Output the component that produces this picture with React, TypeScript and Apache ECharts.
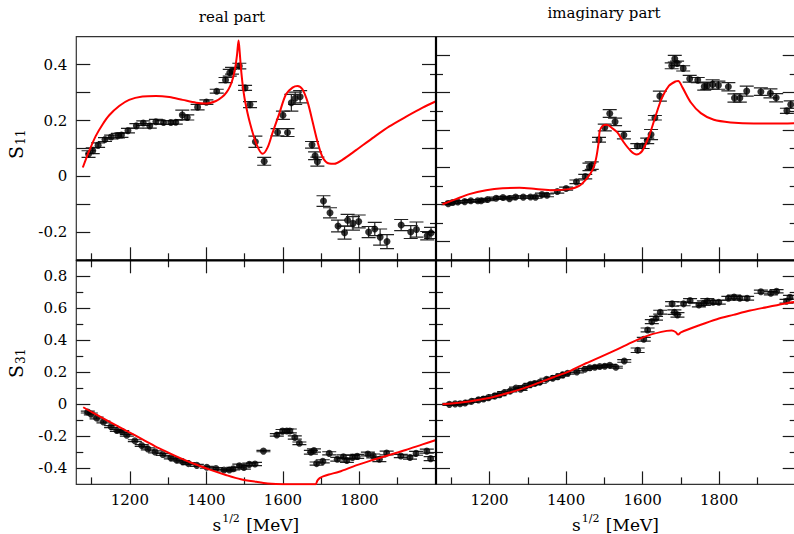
import React, { useEffect, useRef } from "react";
import * as echarts from "echarts";

// ---- energy axis (MeV) ----
const E_MIN = 1060;
const E_MAX = 2000;
const xMajor = [1200, 1400, 1600, 1800];
const xMinor = [1100, 1300, 1500, 1700, 1900];

// ---- value axes ----
const s11ReRange = [-0.3, 0.5];
const s11ReTicks = [-0.2, -0.1, 0, 0.1, 0.2, 0.3, 0.4];
const s11ReLabels = [-0.2, 0, 0.2, 0.4];
const s11ImRange = [-0.3, 0.9];
const s11ImMajor = [-0.2, 0, 0.2, 0.4, 0.6, 0.8];
const s11ImMinor = [-0.1, 0.1, 0.3, 0.5, 0.7];
const s31Range = [-0.5, 0.9];
const s31Major = [-0.4, -0.2, 0, 0.2, 0.4, 0.6, 0.8];
const s31Minor = [-0.3, -0.1, 0.1, 0.3, 0.5, 0.7];

// ---- S11 single-energy data ----
const s11Energy = [
  1092, 1103, 1117, 1135, 1151, 1169, 1178, 1195, 1217, 1235,
  1252, 1268, 1288, 1307, 1320, 1337, 1350, 1377, 1400, 1427,
  1450, 1461, 1467, 1486, 1501, 1514, 1528, 1551, 1586, 1600,
  1612, 1622, 1632, 1645, 1676, 1684, 1690, 1706, 1723, 1744,
  1761, 1769, 1783, 1798, 1824, 1840, 1854, 1872, 1909, 1934,
  1949, 1977, 1987,
];
const s11Re = [
  0.080, 0.092, 0.112, 0.132, 0.141, 0.146, 0.148, 0.164, 0.181, 0.191,
  0.181, 0.196, 0.193, 0.193, 0.194, 0.220, 0.211, 0.248, 0.266, 0.305,
  0.345, 0.371, 0.378, 0.395, 0.317, 0.257, 0.124, 0.054, 0.158, 0.219,
  0.157, 0.264, 0.280, 0.285, 0.113, 0.074, 0.053, -0.088, -0.130, -0.177,
  -0.201, -0.157, -0.168, -0.161, -0.199, -0.188, -0.217, -0.233, -0.174, -0.199,
  -0.190, -0.212, -0.202,
];
const s11ReErr = [
  0.012, 0.010, 0.008, 0.007, 0.007, 0.008, 0.008, 0.008, 0.008, 0.008,
  0.008, 0.008, 0.007, 0.007, 0.007, 0.017, 0.009, 0.010, 0.008, 0.007,
  0.009, 0.012, 0.012, 0.010, 0.009, 0.011, 0.020, 0.014, 0.013, 0.015,
  0.014, 0.030, 0.022, 0.022, 0.012, 0.014, 0.016, 0.019, 0.018, 0.021,
  0.023, 0.021, 0.024, 0.023, 0.020, 0.024, 0.029, 0.025, 0.020, 0.023,
  0.027, 0.015, 0.020,
];
const s11Im = [
  0.004, 0.010, 0.013, 0.015, 0.020, 0.020, 0.020, 0.026, 0.033, 0.037,
  0.031, 0.040, 0.039, 0.040, 0.039, 0.053, 0.049, 0.069, 0.085, 0.121,
  0.149, 0.201, 0.208, 0.347, 0.413, 0.488, 0.443, 0.372, 0.313, 0.313,
  0.341, 0.375, 0.465, 0.581, 0.744, 0.782, 0.757, 0.730, 0.674, 0.667,
  0.633, 0.637, 0.644, 0.640, 0.631, 0.571, 0.571, 0.608, 0.605, 0.596,
  0.572, 0.502, 0.536,
];
const s11ImErr = [
  0.006, 0.006, 0.006, 0.006, 0.006, 0.006, 0.006, 0.006, 0.006, 0.006,
  0.006, 0.006, 0.006, 0.006, 0.006, 0.008, 0.008, 0.008, 0.008, 0.010,
  0.012, 0.020, 0.020, 0.013, 0.018, 0.021, 0.020, 0.020, 0.013, 0.013,
  0.015, 0.027, 0.012, 0.027, 0.016, 0.018, 0.012, 0.014, 0.018, 0.014,
  0.020, 0.020, 0.025, 0.022, 0.022, 0.022, 0.022, 0.027, 0.020, 0.024,
  0.022, 0.014, 0.020,
];

// ---- S31 single-energy data ----
const s31ReEnergy = [
  1090, 1098, 1113, 1131, 1151, 1166, 1180, 1192, 1213, 1231,
  1247, 1266, 1286, 1307, 1322, 1338, 1353, 1375, 1401, 1425,
  1446, 1460, 1470, 1486, 1498, 1512, 1527, 1549, 1584, 1599,
  1610, 1618, 1631, 1643, 1673, 1681, 1688, 1704, 1721, 1742,
  1758, 1767, 1782, 1794, 1822, 1836, 1852, 1871, 1908, 1932,
  1948, 1976, 1986,
];
const s31Re = [
  -0.048, -0.060, -0.085, -0.110, -0.139, -0.163, -0.170, -0.193, -0.227, -0.257,
  -0.278, -0.297, -0.313, -0.334, -0.347, -0.359, -0.370, -0.381, -0.393, -0.401,
  -0.410, -0.410, -0.402, -0.383, -0.394, -0.375, -0.373, -0.292, -0.191, -0.167,
  -0.166, -0.166, -0.207, -0.243, -0.299, -0.288, -0.370, -0.356, -0.306, -0.343,
  -0.327, -0.350, -0.331, -0.325, -0.310, -0.322, -0.343, -0.304, -0.323, -0.332,
  -0.306, -0.292, -0.339,
];
const s31ReErr = [
  0.006, 0.006, 0.006, 0.006, 0.006, 0.006, 0.006, 0.006, 0.006, 0.006,
  0.006, 0.006, 0.006, 0.006, 0.006, 0.006, 0.006, 0.006, 0.006, 0.006,
  0.006, 0.006, 0.008, 0.010, 0.010, 0.008, 0.010, 0.004, 0.008, 0.010,
  0.012, 0.012, 0.010, 0.008, 0.012, 0.010, 0.010, 0.010, 0.010, 0.012,
  0.012, 0.013, 0.012, 0.012, 0.012, 0.012, 0.015, 0.012, 0.010, 0.010,
  0.012, 0.012, 0.012,
];
const s31ImEnergy = [
  1095, 1110, 1123, 1136, 1153, 1171, 1184, 1197, 1214, 1226,
  1238, 1254, 1269, 1281, 1292, 1307, 1318, 1331, 1349, 1365,
  1378, 1391, 1404, 1428, 1449, 1462, 1475, 1488, 1501, 1514,
  1530, 1552, 1587, 1603, 1613, 1624, 1635, 1646, 1677, 1683,
  1691, 1707, 1724, 1747, 1760, 1769, 1784, 1799, 1824, 1839,
  1854, 1873, 1909, 1935, 1950, 1976, 1985,
];
const s31Im = [
  0.000, 0.003, 0.004, 0.009, 0.019, 0.028, 0.034, 0.042, 0.053, 0.061,
  0.073, 0.084, 0.102, 0.094, 0.111, 0.125, 0.130, 0.138, 0.157, 0.163,
  0.173, 0.184, 0.194, 0.203, 0.219, 0.229, 0.232, 0.236, 0.238, 0.244,
  0.232, 0.271, 0.338, 0.407, 0.465, 0.517, 0.538, 0.576, 0.628, 0.576,
  0.559, 0.628, 0.648, 0.621, 0.632, 0.646, 0.638, 0.638, 0.663, 0.671,
  0.663, 0.663, 0.704, 0.694, 0.707, 0.644, 0.669,
];
const s31ImErr = [
  0.006, 0.006, 0.006, 0.006, 0.006, 0.006, 0.006, 0.006, 0.006, 0.006,
  0.006, 0.006, 0.006, 0.006, 0.006, 0.006, 0.006, 0.006, 0.006, 0.006,
  0.006, 0.006, 0.006, 0.006, 0.006, 0.006, 0.006, 0.006, 0.006, 0.006,
  0.006, 0.008, 0.014, 0.012, 0.012, 0.012, 0.012, 0.012, 0.014, 0.014,
  0.014, 0.012, 0.012, 0.012, 0.014, 0.014, 0.012, 0.012, 0.012, 0.012,
  0.012, 0.012, 0.010, 0.010, 0.010, 0.012, 0.012,
];

// ---- model curves [energy, value] ----
const s11ReModel = [
  [1077, 0.032], [1094, 0.092], [1111, 0.145], [1129, 0.187], [1146, 0.219],
  [1172, 0.252], [1198, 0.274], [1233, 0.286], [1268, 0.288], [1303, 0.284],
  [1338, 0.274], [1373, 0.264], [1399, 0.261], [1425, 0.270], [1441, 0.284],
  [1453, 0.302], [1462, 0.323], [1470, 0.355], [1476, 0.395], [1480, 0.435],
  [1484, 0.486], [1487, 0.445], [1490, 0.392], [1495, 0.325], [1501, 0.270],
  [1514, 0.190], [1531, 0.115], [1547, 0.081], [1560, 0.104], [1573, 0.157],
  [1590, 0.223], [1608, 0.294], [1625, 0.318], [1638, 0.324], [1651, 0.312],
  [1665, 0.264], [1678, 0.193], [1691, 0.121], [1704, 0.068], [1721, 0.046],
  [1734, 0.045], [1756, 0.060], [1791, 0.094], [1834, 0.137], [1878, 0.179],
  [1921, 0.213], [1965, 0.246], [2000, 0.269],
];
const s11ImModel = [
  [1077, 0.001], [1112, 0.028], [1147, 0.055], [1191, 0.076], [1234, 0.087],
  [1278, 0.089], [1321, 0.083], [1365, 0.076], [1408, 0.082], [1434, 0.099],
  [1456, 0.144], [1470, 0.189], [1478, 0.243], [1485, 0.332], [1488, 0.395],
  [1496, 0.422], [1506, 0.427], [1522, 0.407], [1534, 0.386], [1551, 0.332],
  [1569, 0.287], [1584, 0.268], [1599, 0.287], [1617, 0.368], [1634, 0.476],
  [1651, 0.574], [1669, 0.637], [1686, 0.660], [1693, 0.662], [1704, 0.628],
  [1726, 0.547], [1752, 0.490], [1786, 0.454], [1830, 0.440], [1891, 0.434],
  [1943, 0.434], [2000, 0.436],
];
const s31ReModel = [
  [1078, -0.018], [1103, -0.052], [1146, -0.108], [1190, -0.164], [1233, -0.218],
  [1277, -0.275], [1320, -0.323], [1364, -0.368], [1407, -0.406], [1451, -0.441],
  [1490, -0.468], [1530, -0.484], [1560, -0.494], [1600, -0.499], [1650, -0.499],
  [1685, -0.499], [1690, -0.476], [1696, -0.461], [1705, -0.450], [1720, -0.438],
  [1747, -0.421], [1791, -0.381], [1834, -0.348], [1878, -0.316], [1921, -0.285],
  [1965, -0.250], [2000, -0.223],
];
const s31ImModel = [
  [1077, 0.000], [1120, 0.010], [1147, 0.018], [1191, 0.036], [1234, 0.062],
  [1278, 0.092], [1321, 0.128], [1365, 0.168], [1408, 0.206], [1452, 0.257],
  [1496, 0.303], [1532, 0.342], [1576, 0.392], [1619, 0.434], [1663, 0.459],
  [1676, 0.461], [1686, 0.452], [1693, 0.436], [1700, 0.450], [1750, 0.496],
  [1794, 0.532], [1837, 0.559], [1881, 0.586], [1924, 0.607], [1976, 0.632],
  [2000, 0.640],
];

// ---- layout ----
const W = 794;
const H = 534;
const COL_LEFT = [76.3, 436];
const COL_W = 359.7;
const ROW_TOP = [36.7, 260.3];
const ROW_H = [223.6, 224.1];
const FONT = '"DejaVu Serif", "Liberation Serif", serif';
const INK = "#1a1a1a";

const fmtValue = (v: number) => (Math.abs(v) < 1e-9 ? "0" : v.toFixed(1));

function tickAxis(
  grid: number,
  position: string,
  range: number[],
  ticks: number[],
  length: number,
  opts: { inside?: boolean; labels?: number[]; labelKind?: "x" | "y" } = {}
) {
  const inside = opts.inside !== false;
  const axis: any = {
    type: "value",
    gridIndex: grid,
    position,
    min: range[0],
    max: range[1],
    axisLine: { show: false, onZero: false },
    splitLine: { show: false },
    axisTick: {
      show: true,
      inside,
      length,
      customValues: ticks,
      lineStyle: { color: INK, width: 1.2 },
    },
    axisLabel: { show: false },
  };
  if (opts.labels) {
    axis.axisLabel = {
      show: true,
      customValues: opts.labels,
      formatter: opts.labelKind === "x" ? (v: number) => String(v) : fmtValue,
      fontFamily: FONT,
      fontSize: 15,
      color: "#000",
      margin: opts.labelKind === "x" ? 8 : 9,
    };
  }
  return axis;
}

function errorBarItem(_params: any, api: any) {
  const x = api.value(0);
  const y = api.value(1);
  const e = api.value(2);
  const hi = api.coord([x, y + e]);
  const lo = api.coord([x, y - e]);
  const half = 7;
  const style = { stroke: "#222", lineWidth: 1.2 };
  return {
    type: "group",
    children: [
      { type: "line", shape: { x1: hi[0], y1: hi[1], x2: lo[0], y2: lo[1] }, style },
      { type: "line", shape: { x1: hi[0] - half, y1: hi[1], x2: hi[0] + half, y2: hi[1] }, style },
      { type: "line", shape: { x1: lo[0] - half, y1: lo[1], x2: lo[0] + half, y2: lo[1] }, style },
    ],
  };
}

function subscriptLabel(x: number, y: number, main: string, sub: string) {
  return {
    type: "group",
    x,
    y,
    rotation: Math.PI / 2,
    children: [
      {
        type: "text",
        x: 0,
        y: 0,
        style: { text: main, fontFamily: FONT, fontSize: 19, fill: "#000", align: "right", verticalAlign: "middle" },
      },
      {
        type: "text",
        x: 1,
        y: 5,
        style: { text: sub, fontFamily: FONT, fontSize: 12, fill: "#000", align: "left", verticalAlign: "middle" },
      },
    ],
  };
}

function energyTitle(cx: number) {
  return {
    type: "group",
    children: [
      { type: "text", x: cx - 35, y: 525, style: { text: "s", fontFamily: FONT, fontSize: 17, fill: "#000", align: "right", verticalAlign: "middle" } },
      { type: "text", x: cx - 34, y: 518, style: { text: "1/2", fontFamily: FONT, fontSize: 11, fill: "#000", align: "left", verticalAlign: "middle" } },
      { type: "text", x: cx - 10, y: 525, style: { text: "[MeV]", fontFamily: FONT, fontSize: 17, fill: "#000", align: "left", verticalAlign: "middle" } },
    ],
  };
}

function buildOption() {
  const grids: any[] = [];
  for (let r = 0; r < 2; r++) {
    for (let c = 0; c < 2; c++) {
      grids.push({
        left: COL_LEFT[c],
        top: ROW_TOP[r],
        width: COL_W,
        height: ROW_H[r],
        show: true,
        borderColor: "#333",
        borderWidth: 1.2,
        backgroundColor: "transparent",
        containLabel: false,
        outerBoundsMode: "none",
      });
    }
  }

  const xAxes: any[] = [];
  const yAxes: any[] = [];
  const xMain: number[] = [];
  const yMain: number[] = [];
  const eRange = [E_MIN, E_MAX];

  // energy axes: ticks on the bottom of every panel, on the top of the lower row
  for (let g = 0; g < 4; g++) {
    const lowerRow = g >= 2;
    xMain.push(xAxes.length);
    xAxes.push(tickAxis(g, "bottom", eRange, xMajor, 13, lowerRow ? { labels: xMajor, labelKind: "x" } : {}));
    xAxes.push(tickAxis(g, "bottom", eRange, xMinor, 7));
    if (lowerRow) {
      xAxes.push(tickAxis(g, "top", eRange, xMajor, 13));
      xAxes.push(tickAxis(g, "top", eRange, xMinor, 7));
    }
  }

  // Re S11
  yMain.push(yAxes.length);
  yAxes.push(tickAxis(0, "left", s11ReRange, s11ReTicks, 14, { labels: s11ReLabels }));
  yAxes.push(tickAxis(0, "right", s11ReRange, s11ReTicks, 14));
  // Im S11
  yMain.push(yAxes.length);
  yAxes.push(tickAxis(1, "left", s11ImRange, s11ImMajor, 14));
  yAxes.push(tickAxis(1, "left", s11ImRange, s11ImMinor, 7));
  yAxes.push(tickAxis(1, "left", s11ImRange, s11ImMinor, 6, { inside: false }));
  yAxes.push(tickAxis(1, "right", s11ImRange, s11ImMajor, 13));
  yAxes.push(tickAxis(1, "right", s11ImRange, s11ImMinor, 6));
  // Re S31
  yMain.push(yAxes.length);
  yAxes.push(tickAxis(2, "left", s31Range, s31Major, 14, { labels: s31Major }));
  yAxes.push(tickAxis(2, "left", s31Range, s31Minor, 7));
  yAxes.push(tickAxis(2, "right", s31Range, s31Major, 14));
  yAxes.push(tickAxis(2, "right", s31Range, s31Minor, 7));
  // Im S31
  yMain.push(yAxes.length);
  yAxes.push(tickAxis(3, "left", s31Range, s31Major, 14));
  yAxes.push(tickAxis(3, "left", s31Range, s31Minor, 7));
  yAxes.push(tickAxis(3, "right", s31Range, s31Major, 13));
  yAxes.push(tickAxis(3, "right", s31Range, s31Minor, 6));

  const panels = [
    { energy: s11Energy, values: s11Re, errors: s11ReErr, model: s11ReModel },
    { energy: s11Energy, values: s11Im, errors: s11ImErr, model: s11ImModel },
    { energy: s31ReEnergy, values: s31Re, errors: s31ReErr, model: s31ReModel },
    { energy: s31ImEnergy, values: s31Im, errors: s31ImErr, model: s31ImModel },
  ];

  const series: any[] = [];
  panels.forEach((p, g) => {
    const axes = { xAxisIndex: xMain[g], yAxisIndex: yMain[g] };
    series.push({
      type: "custom",
      ...axes,
      renderItem: errorBarItem,
      encode: { x: 0, y: 1 },
      data: p.energy.map((e, i) => [e, p.values[i], p.errors[i]]),
      clip: true,
      silent: true,
      z: 2,
    });
    series.push({
      type: "scatter",
      ...axes,
      symbol: "circle",
      symbolSize: 7,
      itemStyle: { color: "#000" },
      data: p.energy.map((e, i) => [e, p.values[i]]),
      silent: true,
      z: 3,
    });
    series.push({
      type: "line",
      ...axes,
      data: p.model,
      showSymbol: false,
      symbol: "none",
      smooth: 0.3,
      lineStyle: { color: "#ff0000", width: 2 },
      clip: true,
      silent: true,
      z: 4,
    });
  });

  const divider = { stroke: "#000", lineWidth: 2.2 };
  const graphic: any[] = [
    {
      type: "text",
      x: 232,
      y: 17,
      style: { text: "real part", fontFamily: FONT, fontSize: 15, fill: "#000", align: "center", verticalAlign: "middle" },
    },
    {
      type: "text",
      x: 604,
      y: 13,
      style: { text: "imaginary part", fontFamily: FONT, fontSize: 15, fill: "#000", align: "center", verticalAlign: "middle" },
    },
    subscriptLabel(16, 146, "S", "11"),
    subscriptLabel(16, 365, "S", "31"),
    energyTitle(COL_LEFT[0] + COL_W / 2),
    energyTitle(COL_LEFT[1] + COL_W / 2),
    {
      type: "line",
      z: 100,
      shape: { x1: COL_LEFT[1], y1: ROW_TOP[0], x2: COL_LEFT[1], y2: ROW_TOP[1] + ROW_H[1] },
      style: divider,
    },
    {
      type: "line",
      z: 100,
      shape: { x1: COL_LEFT[0], y1: ROW_TOP[1], x2: W + 2, y2: ROW_TOP[1] },
      style: divider,
    },
  ];

  return {
    animation: false,
    backgroundColor: "#fff",
    grid: grids,
    xAxis: xAxes,
    yAxis: yAxes,
    series,
    graphic,
  };
}

export default function App() {
  const ref = useRef<HTMLDivElement>(null);
  useEffect(() => {
    document.body.style.margin = "0";
    if (!ref.current) return;
    const chart = echarts.init(ref.current, undefined, { renderer: "svg", width: W, height: H });
    chart.setOption(buildOption());
    return () => {
      chart.dispose();
    };
  }, []);
  return <div ref={ref} style={{ width: W, height: H }} />;
}
